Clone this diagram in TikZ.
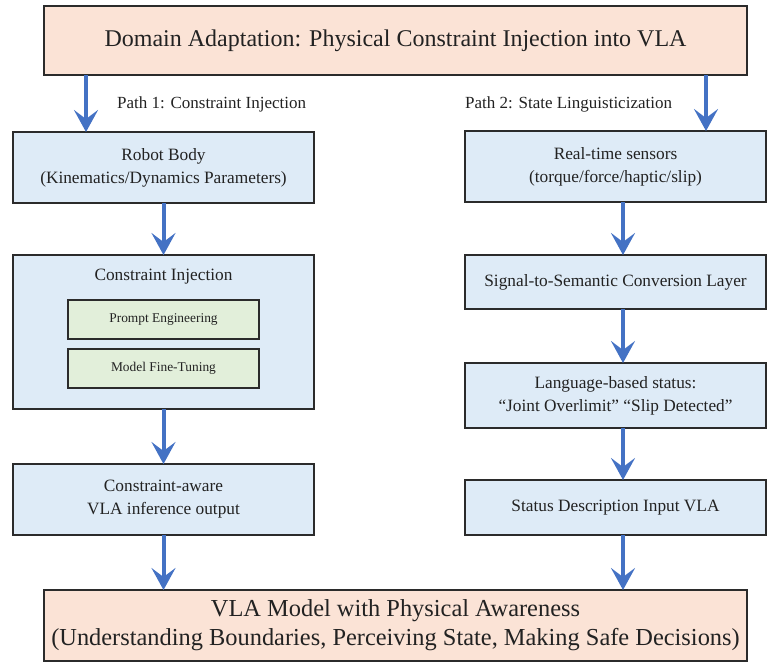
\documentclass[tikz,border=0pt]{standalone}
\usepackage{fontspec}
\setmainfont{Liberation Serif}
\usetikzlibrary{arrows.meta}
\definecolor{peach}{HTML}{FBE3D6}
\definecolor{paleblue}{HTML}{DEEBF7}
\definecolor{palegreen}{HTML}{E2EFDA}
\definecolor{flowblue}{HTML}{4472C4}
\definecolor{edgegray}{HTML}{2B2B2B}
\definecolor{ink}{HTML}{222222}
\tikzset{
  box/.style={draw=edgegray, line width=1.5pt, inner sep=0pt, outer sep=0pt,
    align=center, text=ink},
  headbox/.style={box, fill=peach, minimum width=703pt},
  stepbox/.style={box, fill=paleblue, minimum width=301pt,
    font=\fontsize{17.3}{23}\selectfont},
  subbox/.style={box, fill=palegreen, minimum width=191pt, minimum height=39pt,
    font=\fontsize{13.4}{16}\selectfont},
  flow/.style={draw=flowblue, line width=4pt,
    -{Stealth[length=22pt, width=24pt, inset=9pt]}},
  pathlabel/.style={text=ink, font=\fontsize{17}{20}\selectfont, inner sep=0pt}
}
\begin{document}
\begin{tikzpicture}[x=1pt, y=-1pt]
  \useasboundingbox (0,0) rectangle (767,662);

  % header and footer
  \node[headbox, minimum height=69pt, font=\fontsize{24}{28}\selectfont]
    (top) at (395.5,40.5) {Domain Adaptation: Physical Constraint Injection into VLA};
  \node[headbox, minimum height=71pt, font=\fontsize{24.4}{29}\selectfont]
    (bottom) at (395.5,625.5)
    {VLA Model with Physical Awareness\\(Understanding Boundaries, Perceiving State, Making Safe Decisions)};

  % path 1 column
  \node[stepbox, minimum height=71pt] (robot) at (163.5,167.5)
    {Robot Body\\(Kinematics/Dynamics Parameters)};
  \node[stepbox, minimum height=154pt] (inject) at (163.5,332) {};
  \node[text=ink, font=\fontsize{17.3}{20}\selectfont, inner sep=0pt]
    (injecttitle) at (163.5,277) {Constraint Injection};
  \node[subbox] (prompt) at (163.5,319.5) {Prompt Engineering};
  \node[subbox] (finetune) at (163.5,368.5) {Model Fine-Tuning};
  \node[stepbox, minimum height=71pt] (aware) at (163.5,499.5)
    {Constraint-aware\\VLA inference output};

  % path 2 column
  \node[stepbox, minimum height=71pt] (sensors) at (615.5,166.5)
    {Real-time sensors\\(torque/force/haptic/slip)};
  \node[stepbox, minimum height=54pt] (signal) at (615.5,282)
    {Signal-to-Semantic Conversion Layer};
  \node[stepbox, minimum height=65pt] (status) at (615.5,395.5)
    {Language-based status:\\“Joint Overlimit” “Slip Detected”};
  \node[stepbox, minimum height=55pt] (vlain) at (615.5,507.5)
    {Status Description Input VLA};

  % path labels
  \node[pathlabel, anchor=west] (p1) at (117,104) {Path 1: Constraint Injection};
  \node[pathlabel, anchor=west] (p2) at (465,104) {Path 2: State Linguisticization};

  % arrow columns
  \coordinate (xa) at (86,0);
  \coordinate (xb) at (706,0);
  \coordinate (xl) at (163.5,0);
  \coordinate (xr) at (623,0);

  \draw[flow] (top.south -| xa) -- (robot.north -| xa);
  \draw[flow] (top.south -| xb) -- (sensors.north -| xb);

  \draw[flow] (robot.south -| xl) -- (inject.north -| xl);
  \draw[flow] (inject.south -| xl) -- (aware.north -| xl);
  \draw[flow] (aware.south -| xl) -- (bottom.north -| xl);

  \draw[flow] (sensors.south -| xr) -- (signal.north -| xr);
  \draw[flow] (signal.south -| xr) -- (status.north -| xr);
  \draw[flow] (status.south -| xr) -- (vlain.north -| xr);
  \draw[flow] (vlain.south -| xr) -- (bottom.north -| xr);
\end{tikzpicture}
\end{document}
